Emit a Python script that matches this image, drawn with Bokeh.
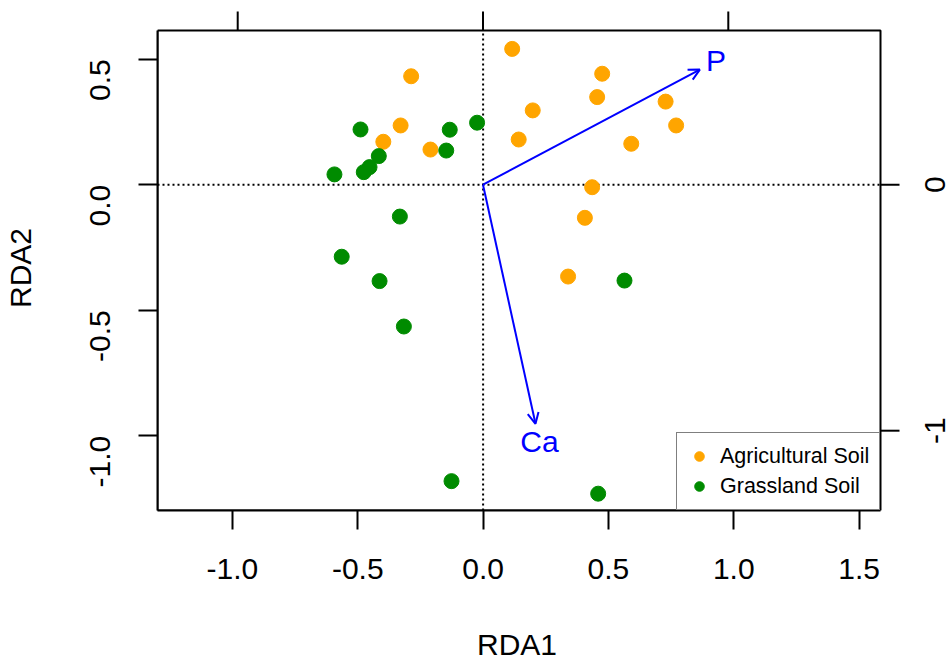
import math
from bokeh.plotting import figure
from bokeh.models import (Range1d, FixedTicker, Arrow, OpenHead, ColumnDataSource,
                          BoxAnnotation, Legend, LegendItem, LabelSet, NumeralTickFormatter)
from bokeh.core.properties import value
from bokeh.embed import file_html
from bokeh.resources import INLINE

# ---- data (site scores, primary scale) ----
agri_x = [0.116, -0.287, 0.475, 0.455, 0.198, 0.728, 0.770, -0.329, -0.398, -0.210,
          0.142, 0.591, 0.435, 0.406, 0.339]
agri_y = [0.541, 0.432, 0.442, 0.349, 0.296, 0.331, 0.236, 0.236, 0.171, 0.140,
          0.180, 0.163, -0.010, -0.132, -0.366]
grass_x = [-0.489, -0.133, -0.024, -0.147, -0.416, -0.453, -0.476, -0.593, -0.332, -0.564,
           -0.413, -0.316, 0.564, -0.126, 0.459]
grass_y = [0.220, 0.219, 0.247, 0.136, 0.114, 0.070, 0.050, 0.041, -0.127, -0.287,
           -0.384, -0.565, -0.382, -1.181, -1.231]

# environmental vectors (biplot scores, secondary scale)
env_names = ["P", "Ca"]
env_x = [0.884, 0.214]
env_y = [0.468, -0.972]

# ticks
x_ticks = [-1.0, -0.5, 0.0, 0.5, 1.0, 1.5]
y_ticks = [-1.0, -0.5, 0.0, 0.5]
top_ticks = [-1, 0, 1]
right_ticks = [-1, 0]
right_tick_labels = ["-1", "0"]

series_names = ["Agricultural Soil", "Grassland Soil"]
series_colors = ["#FFA500", "#008B00"]

FONT = "Liberation Sans"
label_mult = 1.075
NBSP = "\u00a0"

# plot box limits (primary and secondary scales)
XMIN, XMAX = -1.2988, 1.5852
YMIN, YMAX = -1.298, 0.6143
SX0, SX1 = -1.327, 1.6205
SY0, SY1 = -1.3244, 0.6268

# layout: the frame extends to the top and right edges of the canvas so the
# secondary (top/right) ticks and labels can be drawn inside it
W, H = 951, 666
LEFT, BOTTOM = 157, 156
BOX_W, BOX_H = 723, 480
FRAME_W, FRAME_H = W - LEFT, H - BOTTOM
ext_x = FRAME_W / BOX_W
ext_y = FRAME_H / BOX_H

p = figure(width=W, height=H,
           x_range=Range1d(XMIN, XMIN + (XMAX - XMIN) * ext_x),
           y_range=Range1d(YMIN, YMIN + (YMAX - YMIN) * ext_y),
           output_backend="svg", toolbar_location=None,
           min_border_left=LEFT, min_border_right=0, min_border_top=0,
           min_border_bottom=BOTTOM,
           x_axis_label="RDA1" + NBSP * 9, y_axis_label="RDA2" + NBSP * 3)
p.extra_x_ranges = {"sx": Range1d(SX0, SX0 + (SX1 - SX0) * ext_x)}
p.extra_y_ranges = {"sy": Range1d(SY0, SY0 + (SY1 - SY0) * ext_y)}

p.grid.visible = False
p.outline_line_color = None
p.background_fill_color = "white"
p.border_fill_color = "white"


def style_axis(ax):
    ax.axis_line_color = "black"
    ax.axis_line_width = 2
    ax.major_tick_in = 0
    ax.major_tick_out = 19
    ax.major_tick_line_color = "black"
    ax.major_tick_line_width = 2
    ax.minor_tick_line_color = None
    ax.major_label_text_font = FONT
    ax.major_label_text_font_size = "30px"
    ax.major_label_text_color = "black"
    ax.axis_label_text_font = FONT
    ax.axis_label_text_font_size = "30px"
    ax.axis_label_text_font_style = "normal"
    ax.axis_label_text_color = "black"


xa = p.xaxis[0]
style_axis(xa)
xa.bounds = (XMIN, XMAX)
xa.ticker = FixedTicker(ticks=x_ticks)
xa.formatter = NumeralTickFormatter(format="0.0")
xa.major_label_standoff = 29
xa.axis_label_standoff = 46

ya = p.yaxis[0]
style_axis(ya)
ya.bounds = (YMIN, YMAX)
ya.ticker = FixedTicker(ticks=y_ticks)
ya.formatter = NumeralTickFormatter(format="0.0")
ya.major_label_orientation = math.pi / 2
ya.major_label_standoff = 38
ya.axis_label_standoff = 41

# plot box
p.add_layout(BoxAnnotation(left=XMIN, right=XMAX, bottom=YMIN, top=YMAX,
                           fill_alpha=0, line_color="black", line_alpha=1.0,
                           line_width=2, level="underlay"))

# secondary (top / right) axes: ticks and labels
p.ray(x=top_ticks, y=[YMAX] * len(top_ticks), length=19, length_units="screen",
      angle=math.pi / 2, line_color="black", line_width=2, x_range_name="sx")
p.ray(x=[XMAX] * len(right_ticks), y=right_ticks, length=19, length_units="screen",
      angle=0, line_color="black", line_width=2, y_range_name="sy")
right_src = ColumnDataSource(dict(x=[XMAX] * len(right_ticks), y=right_ticks,
                                  text=right_tick_labels))
p.add_layout(LabelSet(x="x", y="y", text="text", source=right_src,
                      y_range_name="sy", x_offset=55,
                      angle=math.pi / 2, text_align="center", text_baseline="middle",
                      text_color="black", text_font=value(FONT), text_font_size="30px"))

# dotted zero lines (inside the box)
p.segment(x0=[XMIN, 0], y0=[0, YMIN], x1=[XMAX, 0], y1=[0, YMAX],
          line_color="black", line_width=2, line_dash="2 3")

# points
r_agri = p.scatter(agri_x, agri_y, size=15, fill_color=series_colors[0],
                   line_color=series_colors[0])
r_grass = p.scatter(grass_x, grass_y, size=15, fill_color=series_colors[1],
                    line_color=series_colors[1])

# environmental arrows
env_src = ColumnDataSource(dict(
    x0=[0.0] * len(env_x), y0=[0.0] * len(env_y), x=env_x, y=env_y, name=env_names,
    lx=[v * label_mult for v in env_x], ly=[v * label_mult for v in env_y]))
p.add_layout(Arrow(end=OpenHead(size=11, line_color="#0000FF", line_width=2),
                   x_start="x0", y_start="y0", x_end="x", y_end="y", source=env_src,
                   x_range_name="sx", y_range_name="sy",
                   line_color="#0000FF", line_width=2))
p.add_layout(LabelSet(x="lx", y="ly", text="name", source=env_src,
                      x_range_name="sx", y_range_name="sy",
                      text_align="center", text_baseline="middle",
                      text_color="#0000FF", text_font=value(FONT), text_font_size="30px"))

LEGEND_W = 204
legend = Legend(items=[LegendItem(label=series_names[0], renderers=[r_agri]),
                       LegendItem(label=series_names[1], renderers=[r_grass])],
                location=(BOX_W - LEGEND_W, 0), margin=0, padding=10, spacing=4,
                label_height=26, glyph_height=26, glyph_width=24, label_standoff=9,
                label_text_font=FONT, label_text_font_size="21.5px",
                label_text_color="black",
                border_line_color="black", border_line_width=1.5,
                background_fill_color="white", background_fill_alpha=1.0)
p.add_layout(legend)

open("out.html", "w").write(file_html(p, INLINE))
